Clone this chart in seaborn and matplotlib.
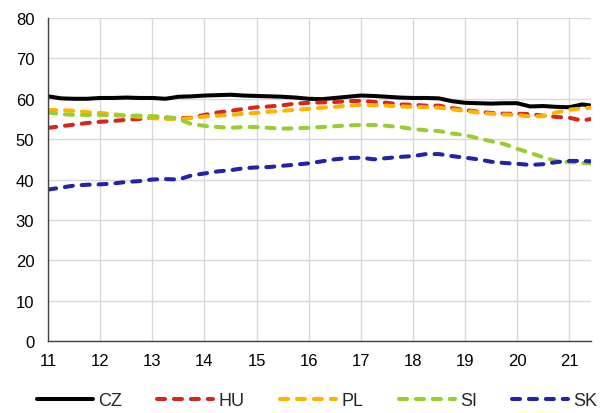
import numpy as np
import pandas as pd
import matplotlib
matplotlib.use('Agg')
import matplotlib.pyplot as plt
import seaborn as sns

# time axis (years, quarterly steps; last point is the latest month)
years = [11.00, 11.25, 11.50, 11.75, 12.00, 12.25, 12.50, 12.75,
         13.00, 13.25, 13.50, 13.75, 14.00, 14.25, 14.50, 14.75,
         15.00, 15.25, 15.50, 15.75, 16.00, 16.25, 16.50, 16.75,
         17.00, 17.25, 17.50, 17.75, 18.00, 18.25, 18.50, 18.75,
         19.00, 19.25, 19.50, 19.75, 20.00, 20.25, 20.50, 20.75,
         21.00, 21.25, 21.42]

cz = [60.6, 60.1, 60.0, 60.0, 60.2, 60.2, 60.3, 60.2,
      60.2, 60.0, 60.5, 60.6, 60.8, 60.9, 61.0, 60.8,
      60.7, 60.6, 60.5, 60.3, 60.0, 59.9, 60.2, 60.5,
      60.8, 60.7, 60.5, 60.3, 60.2, 60.2, 60.1, 59.4,
      59.0, 58.9, 58.8, 58.9, 58.9, 58.1, 58.2, 58.0,
      57.9, 58.6, 58.3]

hu = [52.8, 53.2, 53.6, 54.0, 54.3, 54.5, 54.8, 55.0,
      55.3, 55.3, 55.2, 55.3, 56.0, 56.6, 57.0, 57.5,
      57.9, 58.1, 58.4, 58.8, 59.0, 59.1, 59.2, 59.4,
      59.5, 59.2, 59.0, 58.6, 58.5, 58.3, 58.3, 57.7,
      57.2, 56.8, 56.5, 56.3, 56.3, 56.2, 55.8, 55.5,
      55.3, 54.6, 55.0]

pl = [57.2, 57.2, 57.0, 56.7, 56.5, 56.2, 55.8, 55.5,
      55.2, 55.0, 55.0, 55.2, 55.6, 55.8, 56.0, 56.3,
      56.5, 56.8, 57.0, 57.3, 57.5, 57.8, 58.0, 58.3,
      58.5, 58.4, 58.3, 58.1, 58.0, 57.9, 57.8, 57.4,
      57.0, 56.6, 56.3, 56.1, 56.0, 55.6, 55.7, 56.6,
      57.3, 57.6, 57.8]

si = [56.6, 56.2, 56.0, 56.0, 56.0, 55.9, 55.8, 55.8,
      55.7, 55.5, 55.0, 53.7, 53.3, 53.0, 52.8, 53.0,
      53.0, 52.8, 52.6, 52.7, 52.8, 53.0, 53.2, 53.4,
      53.5, 53.5, 53.3, 53.0, 52.5, 52.2, 52.0, 51.4,
      51.0, 50.2, 49.5, 48.8, 47.6, 46.6, 45.5, 44.6,
      44.3, 44.1, 44.0]

sk = [37.5, 38.0, 38.5, 38.7, 38.8, 39.0, 39.4, 39.6,
      40.0, 40.1, 40.0, 41.0, 41.5, 42.0, 42.3, 42.8,
      43.0, 43.1, 43.4, 43.7, 44.0, 44.5, 45.0, 45.3,
      45.4, 45.0, 45.3, 45.6, 45.8, 46.3, 46.3, 45.8,
      45.4, 45.0, 44.4, 44.1, 43.9, 43.6, 43.8, 44.3,
      44.6, 44.6, 44.5]

countries = ['CZ', 'HU', 'PL', 'SI', 'SK']
series = [cz, hu, pl, si, sk]
colors = ['#000000', '#d7261e', '#ffb300', '#9acd32', '#2323a8']

sns.set_style('white')
plt.rcParams['font.family'] = ['Liberation Sans', 'DejaVu Sans']

fig = plt.figure(figsize=(6.02, 4.14), dpi=100)
ax = fig.add_axes([0.08, 0.174, 0.902, 0.78])

for name, vals, col in zip(countries, series, colors):
    df = pd.DataFrame({'year': years, 'value': vals})
    sns.lineplot(data=df, x='year', y='value', ax=ax, color=col,
                 linewidth=2.9, label=name)
    l = ax.lines[-1]
    l.set_solid_capstyle('round')
    l.set_solid_joinstyle('round')
    if name != 'CZ':
        l.set_dashes((2.0, 2.2))
        l.set_dash_capstyle('round')

ax.set_xlim(11, 21.42)
ax.set_ylim(0, 80)
ax.set_xticks(range(11, 22))
ax.set_yticks(range(0, 81, 10))
ax.set_xlabel('')
ax.set_ylabel('')
ax.grid(True, color='#d9d9d9', linewidth=1)
ax.set_axisbelow(True)
for s in ['top', 'right']:
    ax.spines[s].set_visible(False)
for s in ['left', 'bottom']:
    ax.spines[s].set_color('#404040')
    ax.spines[s].set_linewidth(1)
ax.tick_params(axis='both', length=0, labelsize=12, colors='#000000')
ax.tick_params(axis='y', pad=10)
ax.tick_params(axis='x', pad=9)

ax.get_legend().remove()
handles, labels = ax.get_legend_handles_labels()
fig.legend(handles, labels, loc='center', bbox_to_anchor=(0.527, 0.029),
           ncol=5, frameon=False, fontsize=13, handlelength=3.1,
           handletextpad=0.3, columnspacing=1.95, borderaxespad=0)

fig.savefig('out.png', dpi=100)
